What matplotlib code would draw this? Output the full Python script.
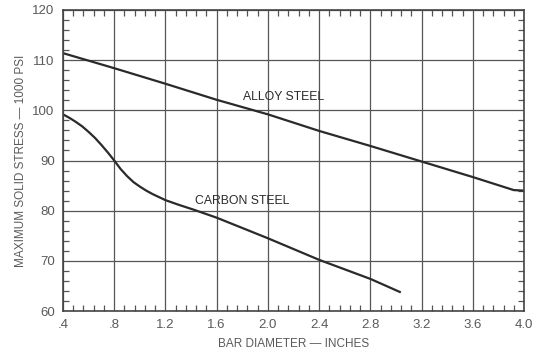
import matplotlib as mpl
import matplotlib.pyplot as plt
import numpy as np

mpl.rcParams['font.family'] = 'Liberation Sans'

# bar diameter (inches) vs maximum solid stress (1000 psi)
alloy_d = [0.4, 0.8, 1.2, 1.6, 2.0, 2.4, 2.8, 3.2, 3.6, 3.92, 4.0]
alloy_s = [111.4, 108.4, 105.3, 102.1, 99.2, 95.9, 92.9, 89.8, 86.7, 84.1, 84.0]

carbon_d = [0.4, 0.45, 0.5, 0.55, 0.6, 0.65, 0.7, 0.75, 0.8, 0.85, 0.9, 0.95,
            1.0, 1.05, 1.1, 1.2, 1.3, 1.42, 1.6, 2.0, 2.4, 2.8, 3.03]
carbon_s = [99.2, 98.5, 97.7, 96.8, 95.7, 94.5, 93.1, 91.6, 90.0, 88.3, 86.9, 85.7,
            84.8, 84.0, 83.3, 82.1, 81.2, 80.2, 78.6, 74.5, 70.2, 66.4, 63.8]

xticks = [0.4, 0.8, 1.2, 1.6, 2.0, 2.4, 2.8, 3.2, 3.6, 4.0]
xticklabels = ['.4', '.8', '1.2', '1.6', '2.0', '2.4', '2.8', '3.2', '3.6', '4.0']
yticks = [60, 70, 80, 90, 100, 110, 120]

ink = '#2a2a2a'
grey = '#5a5a5a'

fig = plt.figure(figsize=(5.42, 3.51), dpi=100)
ax = fig.add_axes([63 / 542, 1 - 311 / 351, (524 - 63) / 542, (311 - 10) / 351])

ax.plot(alloy_d, alloy_s, color=ink, lw=1.6, solid_joinstyle='round')
ax.plot(carbon_d, carbon_s, color=ink, lw=1.6, solid_joinstyle='round')

ax.set_xlim(0.4, 4.0)
ax.set_ylim(60, 120)
ax.set_xticks(xticks)
ax.set_xticklabels(xticklabels)
ax.set_yticks(yticks)
ax.set_xticks(np.arange(0.4, 4.001, 0.08), minor=True)
ax.set_yticks(np.arange(60, 120.1, 2), minor=True)

ax.grid(True, which='major', color='#555555', lw=0.9)
ax.tick_params(which='both', direction='in', top=True, right=True, color='#555555')
ax.tick_params(which='major', length=0, labelsize=9.5, labelcolor=grey, pad=6)
ax.tick_params(which='minor', length=4, width=0.9)
for s in ax.spines.values():
    s.set_color('#444444')
    s.set_linewidth(1.2)

ax.text(2.12, 102.6, 'ALLOY STEEL', fontsize=8.8, color=ink, ha='center', va='center')
ax.text(1.80, 81.9, 'CARBON STEEL', fontsize=8.8, color=ink, ha='center', va='center')

ax.set_xlabel('BAR DIAMETER \u2014 INCHES', fontsize=8.5, color=grey, labelpad=5)
ax.set_ylabel('MAXIMUM SOLID STRESS \u2014 1000 PSI', fontsize=8.5, color=grey, labelpad=4)

fig.savefig('out.png', dpi=100)
